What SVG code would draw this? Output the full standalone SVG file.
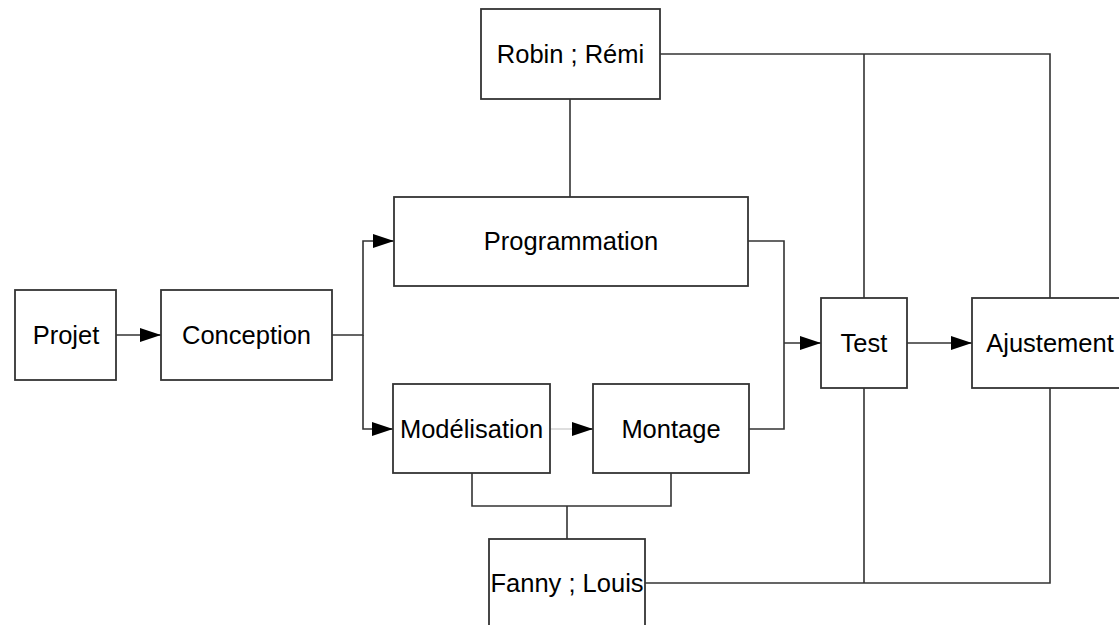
<svg xmlns="http://www.w3.org/2000/svg" width="1119" height="625" viewBox="0 0 1119 625">
<defs>
<style>
.box{fill:#fff;stroke:#333;stroke-width:1.8}
.lbl{font-family:"Liberation Sans",Arial,sans-serif;font-size:25.5px;fill:#000;text-anchor:middle}
.ln{fill:none;stroke:#333;stroke-width:1.6}
.lt{fill:none;stroke:#d0d0d0;stroke-width:1.4}
</style>
<marker id="ah" markerWidth="21" markerHeight="14" refX="21" refY="7" orient="auto" markerUnits="userSpaceOnUse">
<path d="M0,0 L21,7 L0,14 Z" fill="#000"/>
</marker>
</defs>
<rect width="1119" height="625" fill="#fff"/>
<g id="connectors">
<path class="ln" d="M116,335 H161" marker-end="url(#ah)"/>
<path class="ln" d="M332,335 H363 V241 H394" marker-end="url(#ah)"/>
<path class="ln" d="M363,335 V429 H393" marker-end="url(#ah)"/>
<path class="lt" d="M550,429 H575"/>
<path class="ln" d="M575,429 H593" marker-end="url(#ah)"/>
<path class="ln" d="M748,241 H784 V429 H749"/>
<path class="ln" d="M784,343 H821" marker-end="url(#ah)"/>
<path class="ln" d="M907,343 H972" marker-end="url(#ah)"/>
<path class="ln" d="M570,99 V197"/>
<path class="ln" d="M660,54 H1050 V298"/>
<path class="ln" d="M864,54 V298"/>
<path class="ln" d="M472,473 V506 H671 V473"/>
<path class="ln" d="M567,506 V539"/>
<path class="ln" d="M645,583 H1050 V388"/>
<path class="ln" d="M864,388 V583"/>
</g>
<g id="projet"><rect class="box" x="15" y="290" width="101" height="90"/><text class="lbl" x="66" y="344">Projet</text></g>
<g id="conception"><rect class="box" x="161" y="290" width="171" height="90"/><text class="lbl" x="246.5" y="344">Conception</text></g>
<g id="programmation"><rect class="box" x="394" y="197" width="354" height="89"/><text class="lbl" x="571" y="250">Programmation</text></g>
<g id="modelisation"><rect class="box" x="393" y="384" width="157" height="89"/><text class="lbl" x="471.5" y="438">Modélisation</text></g>
<g id="montage"><rect class="box" x="593" y="384" width="156" height="89"/><text class="lbl" x="671" y="438">Montage</text></g>
<g id="test"><rect class="box" x="821" y="298" width="86" height="90"/><text class="lbl" x="864" y="352">Test</text></g>
<g id="ajustement"><rect class="box" x="972" y="298" width="156" height="90"/><text class="lbl" x="1050" y="352">Ajustement</text></g>
<g id="robin-remi"><rect class="box" x="481" y="9" width="179" height="90"/><text class="lbl" x="570.5" y="63">Robin ; Rémi</text></g>
<g id="fanny-louis"><rect class="box" x="489" y="539" width="156" height="90"/><text class="lbl" x="567" y="592">Fanny ; Louis</text></g>
</svg>
